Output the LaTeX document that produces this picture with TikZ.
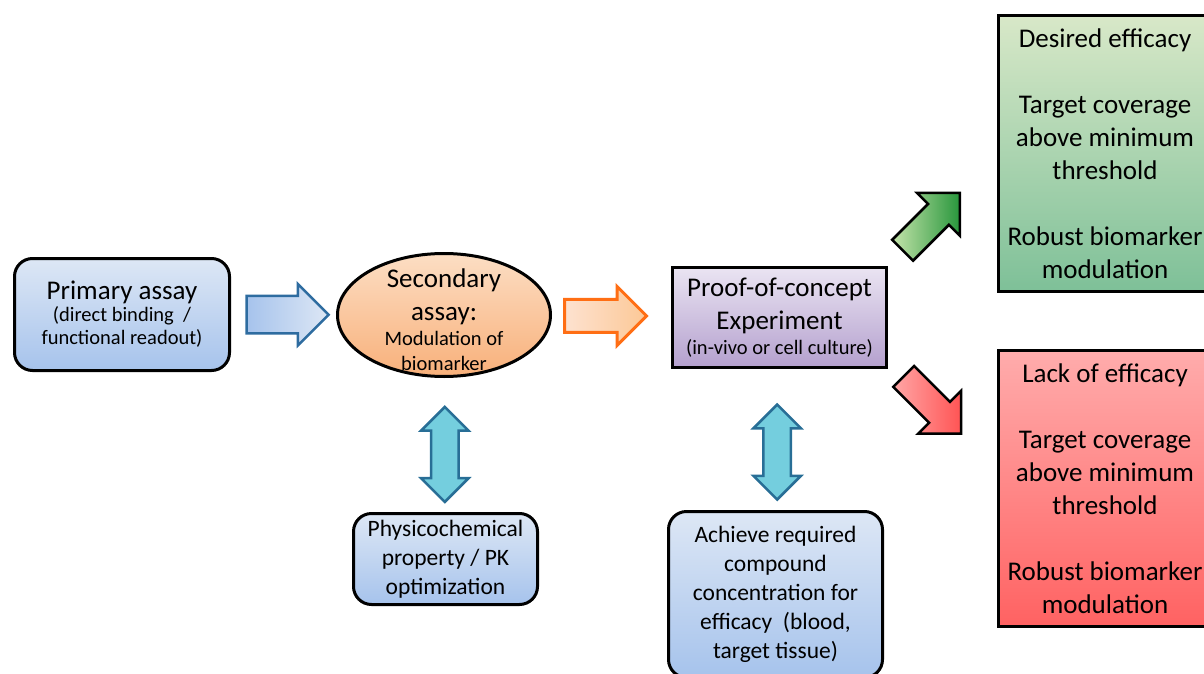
\documentclass[tikz,border=0pt]{standalone}
\usepackage{fontspec}
\setmainfont{Carlito}
\usetikzlibrary{shapes.geometric,shapes.arrows,calc}

\definecolor{boxblueA}{RGB}{221,231,245}
\definecolor{boxblueB}{RGB}{166,195,236}
\definecolor{ellA}{RGB}{252,222,196}
\definecolor{ellB}{RGB}{248,176,122}
\definecolor{pocA}{RGB}{234,228,242}
\definecolor{pocB}{RGB}{180,160,206}
\definecolor{goodA}{RGB}{216,232,200}
\definecolor{goodB}{RGB}{126,192,152}
\definecolor{badA}{RGB}{255,172,172}
\definecolor{badB}{RGB}{255,98,98}
\definecolor{arrblue}{RGB}{46,108,160}
\definecolor{arrorange}{RGB}{255,110,20}
\definecolor{twincyan}{RGB}{116,206,222}
\definecolor{twinedge}{RGB}{40,110,150}

\newcommand\lgfont{\fontsize{27}{33}\selectfont}
\newcommand\mdfont{\fontsize{23.5}{29}\selectfont}
\newcommand\smfont{\fontsize{20.5}{25}\selectfont}
\lineskiplimit=-100pt

\begin{document}
\begin{tikzpicture}[x=1pt,y=-1pt,
	roundbox/.style={draw=black, line width=3pt, rounded corners=18pt,
		top color=boxblueA, bottom color=boxblueB, align=center, inner sep=0pt},
	squarebox/.style={draw=black, line width=2.5pt, align=center, inner sep=0pt},
	flowarrow/.style={single arrow, inner xsep=0pt, line width=2.5pt},
	twinarrow/.style={double arrow, rotate=90, inner xsep=0pt, inner ysep=12.5pt,
		minimum height=95pt, double arrow head extend=10pt,
		draw=twinedge, line width=2.5pt, fill=twincyan}]

\useasboundingbox (0,0) rectangle (1204,674);

% Primary assay
\node[roundbox, minimum width=215pt, minimum height=112pt,
	font=\fontsize{20.5}{23}\selectfont] (prim) at (122,314.5)
	{{\lgfont Primary assay}\\[-1pt](direct binding\ \ /\\functional readout)};

% Secondary assay
\node[draw=black, line width=3pt, ellipse, top color=ellA, bottom color=ellB,
	minimum width=213pt, minimum height=123pt, inner sep=0pt] (sec) at (444,315) {};
\node[align=center, font=\smfont] (sectext) at (444,320)
	{{\lgfont Secondary}\\[8pt]{\lgfont assay:}\\Modulation of\\biomarker};

% Proof-of-concept experiment
\node[squarebox, top color=pocA, bottom color=pocB, minimum width=214pt,
	minimum height=100pt, font=\smfont] (poc) at (779.5,317.5)
	{{\lgfont Proof-of-concept}\\[8pt]{\lgfont Experiment}\\(in-vivo or cell culture)};

% Outcomes
\node[squarebox, top color=goodA, bottom color=goodB, minimum width=213pt,
	minimum height=276pt, font=\lgfont] (good) at (1105,153.5)
	{Desired efficacy\\[33pt]Target coverage\\above minimum\\threshold\\[33pt]Robust biomarker\\modulation};
\node[squarebox, top color=badA, bottom color=badB, minimum width=213pt,
	minimum height=276pt, font=\lgfont] (bad) at (1105,488.5)
	{Lack of efficacy\\[33pt]Target coverage\\above minimum\\threshold\\[33pt]Robust biomarker\\modulation};

% Supporting work
\node[roundbox, minimum width=184pt, minimum height=91pt, font=\mdfont] (phys) at (445.5,559)
	{Physicochemical\\property / PK\\optimization};
\node[roundbox, minimum width=214pt, minimum height=166pt, font=\mdfont] (ach) at (775.5,594.5)
	{Achieve required\\compound\\concentration for\\efficacy\ \ (blood,\\target tissue)};

% Block arrows
\node[flowarrow, minimum height=82pt, inner ysep=17.5pt, single arrow head extend=12pt,
	draw=arrblue, left color=boxblueB, right color=boxblueA]
	(toSec) at ($(prim.east)!0.45!(sec.west)$) {};
\node[flowarrow, minimum height=82pt, inner ysep=15pt, single arrow head extend=13pt,
	draw=arrorange, line width=3pt, left color={rgb,255:red,253;green,226;blue,208},
	middle color={rgb,255:red,253;green,234;blue,238}, right color={rgb,255:red,252;green,200;blue,150}]
	(toPoc) at ($(sec.east)!0.38!(poc.west)$) {};
\node[flowarrow, minimum height=81pt, inner ysep=13.5pt, single arrow head extend=15.5pt,
	rotate=45, draw=black, left color={rgb,255:red,196;green,228;blue,170},
	right color={rgb,255:red,40;green,150;blue,60}]
	(toGood) at ($(poc.north east)!0.35!(good.west)$) {};
\node[flowarrow, minimum height=81pt, inner ysep=13.5pt, single arrow head extend=15.5pt,
	rotate=-45, draw=black, left color={rgb,255:red,255;green,166;blue,166},
	right color={rgb,255:red,255;green,84;blue,84}]
	(toBad) at ([yshift=12pt]$(poc.south east)!0.36!(bad.west)$) {};

% Two-way links
\node[twinarrow] (physLink) at ($(sec.south)!0.57!(phys.north)$) {};
\node[twinarrow] (achLink) at ($(poc.south)!0.59!(ach.north)$) {};

\end{tikzpicture}
\end{document}
